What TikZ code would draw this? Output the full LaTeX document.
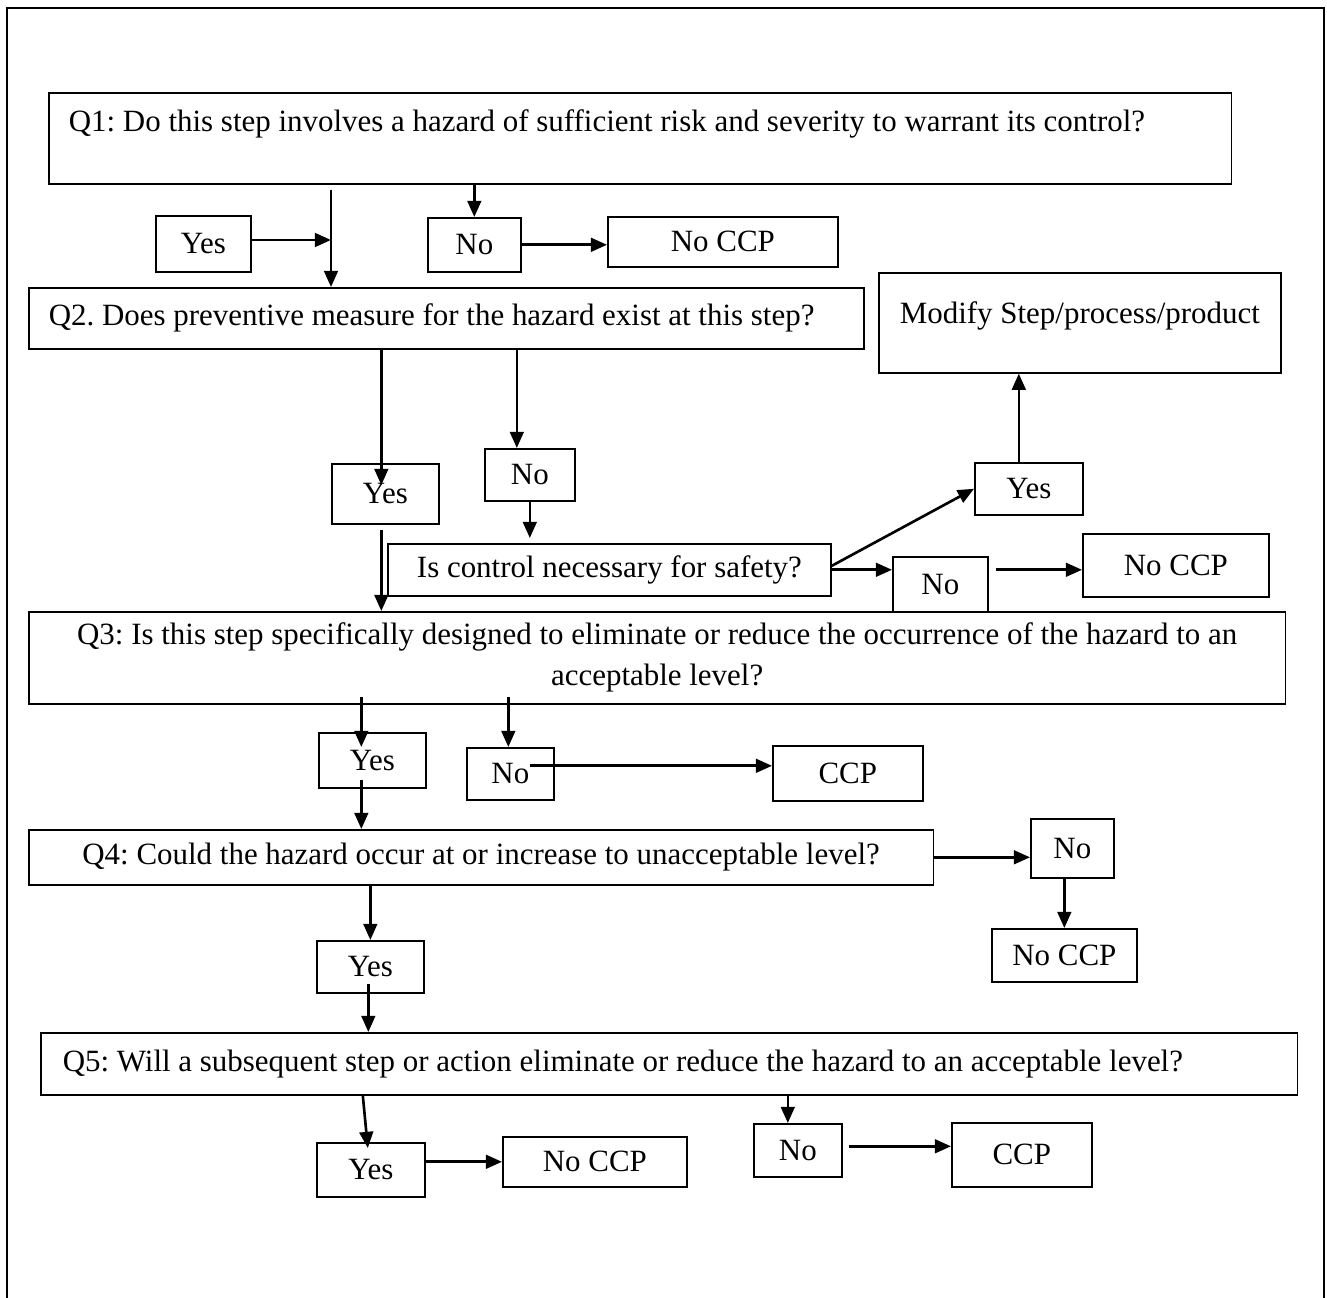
\documentclass[tikz,border=0pt]{standalone}
\usepackage{fontspec}
\setmainfont{Liberation Serif}
\frenchspacing
\usetikzlibrary{arrows.meta,calc}

\begin{document}
\begin{tikzpicture}[x=0.01cm,
            y=-0.01cm,
            >={Triangle[length=4.6pt,width=3.9pt]},
            box/.style={draw, line width=0.45pt, inner sep=0pt, anchor=north west,
                        font=\fontsize{8.8}{11.7}\selectfont},
            wide/.style={box, align=flush left, inner xsep=0.2cm, text width=#1},
            flow/.style={->, line width=0.75pt}]

        \useasboundingbox (0,0) rectangle (1327,1298);
        \draw[line width=0.6pt] (7,1298) -- (7,8) -- (1324,8) -- (1324,1298);

        \node[wide=11.42cm, minimum height=0.91cm, text depth=10pt] (q1) at (48,92)
            {Q1: Do this step involves a hazard of sufficient risk and severity to warrant its control?};
        \node[box, minimum width=0.95cm, minimum height=0.56cm] (yes1)   at (155,215) {Yes};
        \node[box, minimum width=0.93cm, minimum height=0.54cm] (no1)    at (427,217) {No};
        \node[box, minimum width=2.30cm, minimum height=0.50cm] (noccp1) at (607,216) {No CCP};

        \node[wide=7.95cm, minimum height=0.61cm] (q2) at (28,287)
            {Q2. Does preventive measure for the hazard exist at this step?};
        \node[box, minimum width=4.02cm, minimum height=1.00cm, text depth=6pt] (modify) at (878,272)
            {Modify Step/process/product};
        \node[box, minimum width=1.07cm, minimum height=0.60cm] (yes2)   at (331,463)  {Yes};
        \node[box, minimum width=0.90cm, minimum height=0.52cm] (no2)    at (484,448)  {No};
        \node[box, minimum width=4.43cm, minimum height=0.52cm] (ctrl)   at (387,543)
            {Is control necessary for safety?};
        \node[box, minimum width=1.08cm, minimum height=0.52cm] (yes3)   at (974,462)  {Yes};
        \node[box, minimum width=0.95cm, minimum height=0.55cm] (no3)    at (892,556)  {No};
        \node[box, minimum width=1.86cm, minimum height=0.63cm] (noccp3) at (1082,533) {No CCP};

        \node[box, minimum width=12.56cm, minimum height=0.92cm, align=center] (q3) at (28,611)
            {Q3: Is this step specifically designed to eliminate or reduce the occurrence of the hazard to an\\acceptable level?};
        \node[box, minimum width=1.07cm, minimum height=0.55cm] (yes4)   at (318,732)  {Yes};
        \node[box, minimum width=0.87cm, minimum height=0.52cm] (no4)    at (466,747)  {No};
        \node[box, minimum width=1.50cm, minimum height=0.55cm] (ccp4)   at (772,745)  {CCP};

        \node[box, minimum width=9.04cm, minimum height=0.55cm] (q4) at (28,829)
            {Q4: Could the hazard occur at or increase to unacceptable level?};
        \node[box, minimum width=0.83cm, minimum height=0.59cm] (no5)    at (1030,818) {No};
        \node[box, minimum width=1.45cm, minimum height=0.53cm] (noccp5) at (991,928)  {No CCP};
        \node[box, minimum width=1.07cm, minimum height=0.52cm] (yes5)   at (316,940)  {Yes};

        \node[wide=12.12cm, inner xsep=0.22cm, minimum height=0.62cm] (q5) at (40,1032)
            {Q5: Will a subsequent step or action eliminate or reduce the hazard to an acceptable level?};
        \node[box, minimum width=1.08cm, minimum height=0.54cm] (yes6)   at (316,1142) {Yes};
        \node[box, minimum width=1.84cm, minimum height=0.50cm] (noccp6) at (502,1136) {No CCP};
        \node[box, minimum width=0.88cm, minimum height=0.53cm] (no6)    at (753,1123) {No};
        \node[box, minimum width=1.40cm, minimum height=0.64cm] (ccp6)   at (951,1122) {CCP};

        % Q1
        \coordinate (j1) at (331,240);
        \draw[flow] (q1.south -| no1) -- (no1.north);
        \draw[flow] ($(q1.south -| j1)+(0,5)$) -- (q2.north -| j1);
        \draw[flow] (yes1.east |- j1) -- (j1);
        \draw[flow] (no1.east) -- (no1.east -| noccp1.west);

        % Q2
        \draw[flow] ($(q2.south -| yes2)+(-4,0)$) -- ($(yes2.north)+(-4,22)$);
        \draw[flow] ($(q2.south -| no2)+(-13,0)$) -- ($(no2.north)+(-13,0)$);
        \draw[flow] (no2.south) -- ($(ctrl.north -| no2)+(0,-5)$);
        \draw[flow] ($(yes2.south)+(-4,5)$) coordinate (t2) -- (t2 |- q3.north);
        \draw[flow] ($(ctrl.east)+(0,-4)$) -- (yes3.west);
        \draw[flow] ($(yes3.north)+(-10,0)$) coordinate (u3) -- (u3 |- modify.south);
        \draw[flow] (ctrl.east) -- (ctrl.east -| no3.west);
        \draw[flow] ($(ctrl.east -| no3.east)+(7,0)$) -- (ctrl.east -| noccp3.west);

        % Q3
        \draw[flow] ($(q3.south -| yes4)+(-11,-8)$) -- ($(yes4.north)+(-11,15)$);
        \draw[flow] ($(q3.south -| no4)+(-2,-8)$) -- ($(no4.north)+(-2,0)$);
        \draw[flow] ($(no4.center)+(20,-8)$) coordinate (s4) -- (s4 -| ccp4.west);
        \draw[flow] ($(yes4.south)+(-11,-9)$) coordinate (t4) -- (t4 |- q4.north);

        % Q4
        \draw[flow] (q4.east) -- (q4.east -| no5.west);
        \draw[flow] (no5.south -| noccp5) -- (noccp5.north);
        \draw[flow] (q4.south -| yes5) -- (yes5.north);
        \draw[flow] ($(yes5.south)+(-2,-10)$) coordinate (t5) -- (t5 |- q5.north);

        % Q5
        \draw[flow] ($(q5.south -| yes6)+(-8,0)$) -- ($(yes6.north)+(-3,6)$);
        \draw[flow] (yes6.east |- noccp6) -- (noccp6.west);
        \draw[flow] ($(q5.south -| no6)+(-10,0)$) -- ($(no6.north)+(-10,0)$);
        \draw[flow] ($(no6.east)+(6,-4)$) coordinate (s6) -- (s6 -| ccp6.west);

    \end{tikzpicture}
\end{document}
